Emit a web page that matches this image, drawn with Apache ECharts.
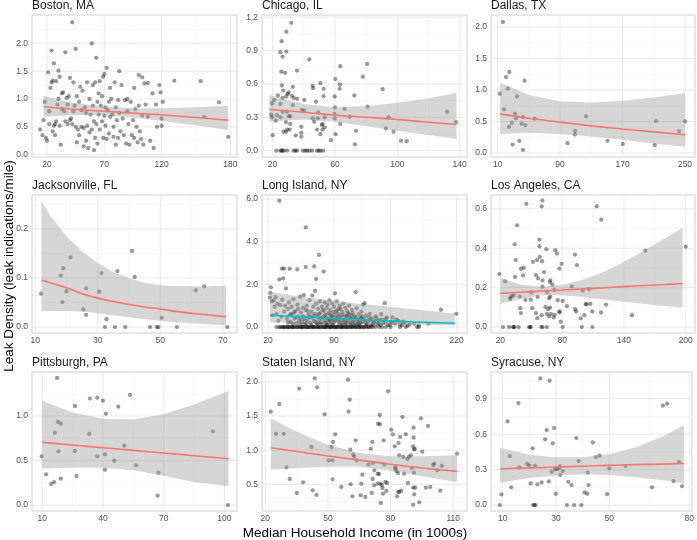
<!DOCTYPE html>
<html><head><meta charset="utf-8">
<script src="https://cdn.jsdelivr.net/npm/echarts@6/dist/echarts.min.js"></script>
<style>html,body{margin:0;padding:0;background:#fff}#c{width:697px;height:540px}</style>
</head><body><div id="c"></div>
<script>
// ---------------- DATA ----------------
const panelNames = ['Boston, MA','Chicago, IL','Dallas, TX','Jacksonville, FL','Long Island, NY','Los Angeles, CA','Pittsburgh, PA','Staten Island, NY','Syracuse, NY'];

const bostonPts = [[14,0.45],[16,0.35],[17,0.62],[18,0.95],[19,0.3],[20,0.25],[21,1.48],[22,0.55],[22,0.78],[23,1.2],[24,1.87],[24,1.3],[25,0.42],[25,1.33],[26,0.52],[26,1.64],[27,0.35],[27,0.55],[28,1.32],[28,0.6],[29,0.9],[30,1.0],[30,1.51],[31,1.4],[31,0.52],[32,0.18],[33,1.1],[33,0.82],[34,1.12],[35,0.78],[36,1.84],[36,0.6],[37,1.02],[38,0.55],[38,0.9],[39,1.05],[40,1.38],[40,0.62],[41,0.65],[42,2.38],[42,0.55],[43,1.3],[43,0.78],[44,0.88],[45,1.9],[45,0.5],[46,0.22],[46,1.05],[47,0.45],[48,0.95],[48,0.35],[49,1.22],[50,0.5],[50,0.8],[51,1.15],[52,0.15],[52,0.48],[53,0.85],[54,0.75],[54,0.25],[55,1.3],[55,0.52],[56,0.12],[57,1.0],[57,0.4],[58,0.72],[59,2.0],[59,0.45],[60,1.25],[60,0.88],[61,0.08],[61,0.6],[62,1.3],[62,0.3],[63,1.74],[63,0.55],[64,0.95],[64,0.2],[65,1.1],[65,0.72],[66,1.32],[66,0.45],[67,0.88],[68,0.6],[68,1.05],[69,1.4],[69,0.3],[70,1.45],[70,0.7],[71,0.52],[71,0.85],[72,1.56],[72,0.28],[73,0.8],[74,0.95],[74,0.38],[75,1.2],[75,0.68],[76,1.0],[77,0.72],[78,0.32],[78,0.5],[79,1.3],[80,0.85],[80,0.18],[81,0.62],[82,0.98],[82,0.3],[83,1.5],[83,0.75],[84,0.42],[85,1.25],[86,0.65],[87,0.35],[88,0.98],[89,0.2],[90,0.78],[90,1.0],[91,0.55],[92,0.18],[93,0.95],[94,0.35],[95,0.62],[96,1.2],[96,0.3],[97,0.82],[98,0.5],[99,0.22],[100,1.43],[100,0.88],[101,0.42],[102,0.28],[103,1.39],[103,0.7],[104,0.18],[105,1.28],[106,0.9],[108,0.68],[108,1.29],[110,0.25],[112,1.1],[113,0.12],[115,0.9],[116,0.5],[118,1.25],[119,1.12],[120,0.65],[120,0.52],[121,0.95],[131,1.33],[154,1.32],[157,0.68],[170,0.94],[178,0.32]];
const bostonFitX = [17,40,70,100,130,160,178];
const bostonFit  = [0.86,0.82,0.78,0.74,0.70,0.65,0.62];
const bostonLo   = [0.68,0.71,0.71,0.66,0.58,0.50,0.44];
const bostonHi   = [1.06,0.94,0.86,0.83,0.84,0.86,0.88];
const bostonXTicks = [20,70,120,180];
const bostonYTicks = [0,0.5,1.0,1.5,2.0];

const chicagoPts = [[22.4,0],[25,0],[25.7,0],[26.3,0],[27.2,0],[29.3,0],[33.5,0],[34.6,0],[35.7,0],[39.5,0],[41,0],[42,0],[43.5,0],[45.3,0],[48.5,0],[49.6,0],[50.7,0],[52.4,0],[32,1.15],[28.8,1.07],[25.8,0.985],[25,0.886],[28.8,0.89],[26.4,0.846],[43.5,0.82],[35.6,0.72],[25.6,0.71],[28,0.70],[63.4,0.76],[80.7,0.78],[77.9,0.665],[60.2,0.644],[63.2,0.595],[63,0.556],[50.6,0.607],[45.7,0.583],[46,0.562],[52.7,0.556],[33,0.574],[26,0.586],[26.8,0.54],[30.3,0.523],[29.6,0.51],[23.4,0.496],[32.4,0.493],[33.5,0.474],[28.8,0.487],[26.4,0.475],[21,0.456],[19.6,0.426],[40.3,0.456],[35.8,0.466],[59.8,0.487],[52.7,0.49],[72.4,0.496],[90.6,0.553],[81,0.396],[66.2,0.375],[60,0.39],[47.8,0.44],[33,0.41],[25,0.42],[29.2,0.35],[26.4,0.35],[22.8,0.32],[19.1,0.323],[19.6,0.30],[22,0.27],[25,0.30],[30.5,0.31],[31.3,0.31],[38.8,0.366],[40.3,0.36],[49.3,0.345],[45.7,0.29],[48.9,0.29],[53.4,0.30],[59.8,0.33],[59.8,0.29],[69.4,0.305],[94.4,0.30],[131.9,0.35],[137.6,0.257],[28.6,0.257],[31.3,0.24],[27,0.17],[28.6,0.17],[29.4,0.19],[31,0.19],[34.8,0.136],[38.4,0.215],[38.4,0.16],[38.4,0.124],[20,0.139],[48.5,0.19],[50.6,0.148],[52,0.19],[53.4,0.21],[52,0.24],[60.4,0.148],[57.4,0.094],[63.4,0.24],[73.5,0.178],[72.8,0.057],[92.7,0.2],[97.6,0.17],[102.4,0.09],[106,0.085],[51.6,0.23],[46.7,0.26]];
const chicagoFitX = [18,40,60,80,100,120,138];
const chicagoFit  = [0.37,0.345,0.32,0.30,0.28,0.255,0.235];
const chicagoLo   = [0.26,0.28,0.26,0.22,0.18,0.14,0.105];
const chicagoHi   = [0.50,0.42,0.39,0.40,0.43,0.47,0.52];
const chicagoXTicks = [20,60,100,140];
const chicagoYTicks = [0,0.3,0.6,0.9,1.2];

const dallasPts = [[16.8,2.08],[24.9,1.285],[20.7,1.205],[23.2,1.024],[44.5,1.147],[13,0.94],[34.7,0.896],[18.1,0.693],[32.2,0.624],[33.4,0.549],[42.4,0.571],[57.3,0.544],[28.3,0.48],[40.7,0.464],[45.4,0.443],[24.5,0.416],[123.4,0.581],[212.9,0.507],[250,0.501],[242.3,0.347],[109.3,0.352],[108.9,0.293],[37.7,0.192],[29.2,0.133],[42.4,0.048],[99.5,0.155],[150.7,0.192],[170.3,0.144],[211.2,0.123]];
const dallasFitX = [13,50,90,130,170,210,250];
const dallasFit  = [0.62,0.55,0.49,0.43,0.38,0.335,0.29];
const dallasLo   = [0.30,0.32,0.30,0.26,0.21,0.15,0.10];
const dallasHi   = [1.12,0.92,0.82,0.80,0.83,0.88,0.95];
const dallasXTicks = [10,90,170,250];
const dallasYTicks = [0,0.5,1.0,1.5,2.0];

const jacksonvillePts = [[11.9,0.068],[18.2,0.105],[19,0.12],[21.3,0.142],[18.7,0.051],[20,0.073],[25.4,0.036],[26.3,0.079],[26.3,0.025],[30.5,0.072],[31.2,0.11],[32.3,0],[32.8,0.016],[35.5,0],[36.3,0.114],[38.8,0],[41,0.155],[41.8,0.102],[46.7,0],[48.9,0],[49.4,0],[50.5,0.019],[55.3,0],[61.3,0.075],[64,0.083],[71.4,0]];
const jacksonvilleFitX = [12,15,20,25,30,35,40,45,50,55,60,65,71];
const jacksonvilleFit  = [0.096,0.090,0.080,0.068,0.059,0.052,0.046,0.041,0.037,0.032,0.028,0.025,0.021];
const jacksonvilleLo   = [0.032,0.033,0.033,0.032,0.028,0.024,0.020,0.016,0.013,0.010,0.008,0.006,0.004];
const jacksonvilleHi   = [0.257,0.225,0.185,0.155,0.130,0.112,0.100,0.090,0.085,0.083,0.083,0.083,0.084];
const jacksonvilleXTicks = [10,30,50,70];
const jacksonvilleYTicks = [0,0.1,0.2];

const longIslandPts = [[22,1.38],[22.5,1.6],[23,1.86],[24,1.2],[25,0.55],[26,1.25],[27,0.95],[28,1.4],[29,0.62],[30,1.1],[31,0.3],[32,2.23],[32,5.92],[33,1.02],[34,0.48],[34.8,2.74],[35,1.28],[36,2.28],[37,2.74],[37,0.72],[38,1.0],[39,1.81],[40,0.38],[41,0.85],[42,1.15],[43,2.73],[43,0.55],[44,0.25],[45,0.95],[46,0.62],[47,1.3],[48,0.4],[49,0.75],[50,0.18],[51,2.7],[51,1.05],[52,0.5],[53,0.3],[54,1.42],[55,0.68],[56,0.22],[57,0.9],[58,1.5],[58,0.45],[59,0.12],[60,4.67],[60,2.81],[60,0.8],[61,1.0],[62,0.35],[63,0.58],[64,1.25],[65,0.2],[66,0.72],[67,1.48],[67,0.42],[68,0.95],[69,2.84],[69,0.28],[70,1.69],[70,0.62],[71,2.25],[71,1.1],[72,0.15],[72,0.5],[73,0.85],[74,3.38],[74,0.35],[75,1.2],[75,0.65],[76,0.22],[77,0.95],[78,0.45],[79,2.6],[79,0.75],[80,1.15],[80,0.3],[81,0.58],[82,0.12],[82,0.88],[83,1.05],[83,0.42],[84,0.65],[85,0.25],[85,1.25],[86,0.8],[87,0.5],[87,0.15],[88,1.1],[88,0.35],[89,0.7],[90,0.95],[90,0.22],[91,1.58],[91,0.55],[92,0.4],[93,1.2],[93,0.78],[94,0.3],[95,0.1],[95,0.62],[96,1.0],[97,0.45],[97,0.85],[98,0.2],[99,0.7],[100,1.1],[100,0.35],[101,0.55],[102,0.15],[102,0.9],[103,0.48],[104,0.75],[105,0.28],[106,1.0],[106,0.6],[107,0.12],[108,0.42],[109,0.8],[110,0.25],[110,0.65],[112,0.5],[113,1.63],[113,0.18],[114,0.88],[115,0.35],[116,0.6],[117,0.1],[118,0.45],[119,0.72],[120,0.22],[121,1.05],[122,0.38],[122.5,1.12],[124,0.55],[125,0.15],[126,0.3],[128,0.62],[129,0.08],[130,0.4],[132,0.2],[134,0.5],[136,0.12],[138,0.32],[140,0.6],[142,0.18],[143.7,1.12],[145,0.38],[147,0.1],[150,0.25],[152,0.45],[155,0.15],[158,0.3],[162,0.08],[165,0.2],[170,0.12],[180,0.08],[190,0.15],[203.4,0.81],[219.6,0.62],[41,0.2],[44,0.6],[46,0.15],[48,0.7],[50,0.45],[52,0.85],[54,0.12],[55,0.38],[57,0.5],[59,0.3],[61,0.18],[62,0.75],[64,0.48],[66,0.1],[68,0.55],[70,0.25],[73,0.18],[74,0.6],[76,0.42],[77,0.15],[78,0.8],[80,0.52],[81,0.2],[83,0.1],[84,0.35],[86,0.3],[86,0.6],[88,0.5],[89,0.1],[91,0.32],[92,0.7],[94,0.48],[95,0.85],[96,0.25],[98,0.55],[99,0.1],[101,0.3],[103,0.2],[104,0.52],[105,0.65],[107,0.4],[108,0.2],[109,0.55],[111,0.1],[111,0.35],[113,0.45],[115,0.15],[116,0.28],[118,0.2],[119,0.4],[120,0.5],[123,0.25],[124,0.1],[127,0.45],[129,0.3],[131,0.1],[133,0.25],[135,0.4],[137,0.2],[139,0.1],[141,0.35],[144,0.22],[146,0.45],[149,0.1],[152,0.2],[156,0.35],[160,0.12],[163,0.25],[168,0.05],[175,0.15]];
const longIslandZeroX = [29,32,33,35,36,37,38,40,41,42,43,45,46,47,48,50,51,52,54,55,56,57,58,60,61,62,63,64,66,67,68,69,70,72,73,74,75,76,78,79,80,81,82,84,85,86,87,88,90,91,92,93,94,96,97,98,99,100,102,103,104,105,107,108,109,110,112,113,114,116,117,118,120,121,122,124,126,127,129,131,134,138,141,145,150,160,166,178,180];
const longIslandFitX = [22,50,80,110,140,170,200,218];
const longIslandFit  = [0.56,0.49,0.42,0.36,0.30,0.25,0.20,0.17];
const longIslandLo   = [0.21,0.20,0.18,0.16,0.14,0.12,0.10,0.09];
const longIslandHi   = [1.64,1.46,1.29,1.12,0.99,0.86,0.72,0.62];
const longIslandXTicks = [20,90,150,220];
const longIslandYTicks = [0,2,4,6];

const losAngelesPts = [[45.2,0.625],[60.8,0.642],[60.1,0.612],[113.5,0.613],[118,0.545],[36.2,0.516],[57.9,0.444],[33.9,0.42],[57.9,0.41],[64.7,0.395],[73.4,0.39],[75,0.373],[92.5,0.368],[160.8,0.388],[200,0.408],[58.2,0.356],[34.9,0.34],[51.7,0.331],[55.6,0.34],[60.5,0.334],[79.5,0.321],[94.4,0.314],[77.3,0.297],[40,0.296],[42.7,0.301],[19,0.269],[62.4,0.279],[54.6,0.264],[42,0.262],[34.2,0.254],[56.6,0.247],[61,0.237],[68.5,0.237],[68.2,0.227],[24.5,0.232],[70.5,0.215],[60.8,0.205],[89.3,0.207],[50.1,0.176],[72.4,0.188],[65.3,0.178],[100,0.185],[106,0.192],[31.3,0.158],[33.2,0.161],[29.7,0.15],[38.8,0.155],[44.3,0.138],[49.4,0.139],[56.2,0.153],[68.5,0.155],[67.2,0.146],[75.7,0.136],[29.7,0.143],[80.5,0.133],[102.8,0.116],[103.8,0.116],[107.4,0.118],[122.6,0.114],[84.7,0.106],[63.7,0.103],[68.2,0.099],[66.3,0.091],[39.4,0.096],[51,0.096],[92.5,0.091],[93.5,0.079],[109.3,0.079],[77.6,0.079],[117.7,0.074],[40,0.071],[54.6,0.071],[65.3,0.067],[69.2,0.066],[72.8,0.062],[60.1,0.06],[147.8,0.06],[77.3,0.074],[101.6,0.06],[55.9,0.045],[67.2,0.054],[98,0.044],[78.6,0.027],[71.8,0.049],[22.6,0],[28.4,0],[32.3,0],[32.9,0],[33.9,0],[37.8,0],[47.8,0],[49.1,0],[49.4,0],[59.8,0],[60.8,0],[65,0],[80.5,0],[99,0],[109.3,0]];
const losAngelesFitX = [20,40,60,80,100,120,140,160,180,197];
const losAngelesFit  = [0.171,0.177,0.183,0.188,0.194,0.199,0.205,0.211,0.216,0.221];
const losAngelesLo   = [0.118,0.142,0.162,0.162,0.152,0.140,0.128,0.117,0.107,0.100];
const losAngelesHi   = [0.250,0.215,0.205,0.215,0.240,0.280,0.330,0.390,0.450,0.505];
const losAngelesXTicks = [20,80,140,200];
const losAngelesYTicks = [0,0.2,0.4,0.6];

const pittsburghPts = [[17.4,1.427],[26.2,1.112],[33.6,1.195],[37.2,1.206],[40,1.172],[41.5,1.026],[47.6,1.105],[53.4,1.236],[17.8,0.933],[19.2,0.914],[16.3,0.813],[33.3,0.798],[94.3,0.828],[50.6,0.667],[26.2,0.607],[18.1,0.603],[9.8,0.547],[37.2,0.547],[41,0.569],[45.6,0.498],[56.4,0.446],[41,0.397],[67.4,0.363],[12,0.345],[27,0.326],[19.2,0.296],[15.9,0.258],[14.5,0.236],[67,0.105],[101.7,0]];
const pittsburghFitX = [10,25,40,55,70,85,102];
const pittsburghFit  = [0.704,0.674,0.644,0.614,0.584,0.554,0.52];
const pittsburghLo   = [0.41,0.42,0.42,0.39,0.33,0.26,0.21];
const pittsburghHi   = [1.17,1.04,0.97,0.96,1.02,1.13,1.28];
const pittsburghXTicks = [10,40,70,100];
const pittsburghYTicks = [0,0.5,1.0];

const statenIslandPts = [[22.6,1.565],[26.7,1.677],[25.1,1.238],[28.8,1.238],[30.1,0.749],[31.7,0.578],[36.2,1.902],[35.1,0.373],[38.1,0.529],[42.1,1.047],[42.7,0.412],[43.7,2.053],[44.8,1.922],[44.5,0.344],[48.4,1.526],[50.4,0.852],[52.2,0.852],[51.7,1.047],[52.4,1.12],[53.5,1.233],[52.2,0.573],[56.4,0.461],[59.6,2.034],[60.4,1.741],[59.9,1.565],[60.7,1.008],[60.9,0.5],[61.7,0.324],[62.6,0.905],[62.1,0.935],[63.3,1.145],[63.8,0.852],[65.7,0.339],[66.5,0.642],[66,0.51],[67.9,0.314],[69.4,0.793],[70.5,1.023],[71,0.373],[71.3,1.12],[71.4,0.578],[71.6,0.813],[72.2,0.705],[72.1,0.485],[73.8,0.656],[73.8,0.51],[74,1.389],[74.9,1.379],[74.8,1.516],[74.5,0.651],[75.1,0.51],[75.3,0.226],[75.8,0.49],[76.4,0.363],[76.1,0.446],[76.7,1.145],[77,0.793],[77.5,0.534],[78,0.402],[78.3,0.519],[78.8,1.863],[80.3,1.301],[81.1,1.233],[82,1.057],[82.3,0.754],[82.3,0.725],[82.8,0.696],[83.1,0.324],[83.6,0.388],[84.2,0.388],[83.5,0.666],[83.8,1.106],[84.1,0.925],[84.6,1.194],[85.1,0.407],[85.7,1.487],[86,0.9],[86.5,0.656],[87.3,1.233],[88,0.871],[88.3,0.519],[88.8,0.9],[89.7,0.925],[90.2,0.739],[90.8,1.057],[91,1.33],[91,1.184],[91.2,1.013],[91.2,0.671],[90.8,0.451],[91.8,0.451],[91.3,0.354],[90.8,0.202],[91.6,1.018],[93.7,0.236],[94.5,1.467],[95.2,0.979],[96.9,0.451],[97.9,1.355],[99,0.461],[100.4,0.783],[100.9,0.803],[102.4,0.705],[103.8,0.407],[104.5,0.769],[111.8,0.949]];
const statenIslandFitX = [22.6,35,50,65,80,95,111.8];
const statenIslandFit  = [1.037,0.98,0.915,0.855,0.795,0.74,0.69];
const statenIslandLo   = [0.715,0.74,0.76,0.76,0.70,0.62,0.535];
const statenIslandHi   = [1.47,1.27,1.08,0.96,0.91,0.91,0.925];
const statenIslandXTicks = [20,50,80,110];
const statenIslandYTicks = [0.5,1.0,1.5,2.0];

const syracusePts = [[8.9,0],[9.5,0.09],[11.8,0.708],[12.7,0.415],[13.2,0.15],[15.9,0.863],[16.3,0.319],[19.2,0.35],[20,0.333],[20.5,0.183],[21.2,0.48],[21.4,0],[21.9,0],[22.3,0],[22.1,0.333],[23,0.175],[24.1,1.072],[24.6,0.192],[25.9,0.556],[26.5,0.635],[27.3,0.2],[27.6,1.052],[28.4,0.282],[28.8,0.522],[29.3,0.652],[29.6,0.305],[29.9,0.096],[30.3,0.305],[31,0.31],[31.5,0.327],[31.6,0.254],[32.5,0.288],[34.1,0],[34.6,0.197],[35.8,0.169],[36.8,0],[37.6,0.567],[38.5,0.372],[39.5,0],[40.7,0.107],[41.7,0.096],[41.9,0.274],[42.2,0.169],[43.8,0.53],[44.9,0.406],[46.4,0.418],[49.2,0.093],[50,0.31],[56.1,0.33],[66,0.15],[70.1,0.841],[71.7,0.858],[74.1,0.203],[76.2,0.364],[77.3,0.161]];
const syracuseFitX = [9,20,30,40,50,60,70,78];
const syracuseFit  = [0.308,0.315,0.322,0.329,0.336,0.342,0.347,0.352];
const syracuseLo   = [0.19,0.23,0.25,0.26,0.255,0.235,0.21,0.185];
const syracuseHi   = [0.485,0.425,0.405,0.405,0.43,0.49,0.58,0.675];
const syracuseXTicks = [10,30,50,80];
const syracuseYTicks = [0,0.3,0.6,0.9];

const xAxisTitle = 'Median Household Income (in 1000s)';
const yAxisTitle = 'Leak Density (leak indications/mile)';

// ---------------- LAYOUT ----------------
const FONT = '"Liberation Sans", Arial, Helvetica, sans-serif';
const colLeft = [32, 262, 491];
const colWidth = [205, 205, 204];
const rowTop = [15, 195, 372];
const rowHeight = [142, 138, 139];
const ranges = [
  [6.9,185.7,-0.042,2.51],
  [13.2,144.7,-0.057,1.22],
  [1.5,262.8,-0.064,2.19],
  [9,74.5,-0.012,0.269],
  [13.6,231,-0.28,6.19],
  [10.9,209,-0.03,0.67],
  [5,106.2,-0.067,1.494],
  [18.4,116.6,0.109,2.146],
  [5.6,81,-0.05,1.126]
];

const panels = [
  {pts: bostonPts, fx: bostonFitX, fy: bostonFit, lo: bostonLo, hi: bostonHi, xt: bostonXTicks, yt: bostonYTicks},
  {pts: chicagoPts, fx: chicagoFitX, fy: chicagoFit, lo: chicagoLo, hi: chicagoHi, xt: chicagoXTicks, yt: chicagoYTicks},
  {pts: dallasPts, fx: dallasFitX, fy: dallasFit, lo: dallasLo, hi: dallasHi, xt: dallasXTicks, yt: dallasYTicks},
  {pts: jacksonvillePts, fx: jacksonvilleFitX, fy: jacksonvilleFit, lo: jacksonvilleLo, hi: jacksonvilleHi, xt: jacksonvilleXTicks, yt: jacksonvilleYTicks},
  {pts: longIslandPts.concat(longIslandZeroX.map(x => [x, 0])), fx: longIslandFitX, fy: longIslandFit, lo: longIslandLo, hi: longIslandHi, xt: longIslandXTicks, yt: longIslandYTicks, lineColor: '#00BFC4'},
  {pts: losAngelesPts, fx: losAngelesFitX, fy: losAngelesFit, lo: losAngelesLo, hi: losAngelesHi, xt: losAngelesXTicks, yt: losAngelesYTicks},
  {pts: pittsburghPts, fx: pittsburghFitX, fy: pittsburghFit, lo: pittsburghLo, hi: pittsburghHi, xt: pittsburghXTicks, yt: pittsburghYTicks},
  {pts: statenIslandPts, fx: statenIslandFitX, fy: statenIslandFit, lo: statenIslandLo, hi: statenIslandHi, xt: statenIslandXTicks, yt: statenIslandYTicks},
  {pts: syracusePts, fx: syracuseFitX, fy: syracuseFit, lo: syracuseLo, hi: syracuseHi, xt: syracuseXTicks, yt: syracuseYTicks}
];

function minors(ticks, lo, hi) {
  const n = ticks.length;
  const ext = [ticks[0] - (ticks[1] - ticks[0])].concat(ticks, [ticks[n-1] + (ticks[n-1] - ticks[n-2])]);
  const out = [];
  for (let i = 0; i < ext.length - 1; i++) {
    const m = (ext[i] + ext[i+1]) / 2;
    if (m > lo && m < hi) out.push(m);
  }
  return out;
}

const grids = [], xAxes = [], yAxes = [], series = [], titles = [];
panels.forEach((p, i) => {
  const c = i % 3, r = Math.floor(i / 3);
  const [x0, x1, y0, y1] = ranges[i];
  grids.push({left: colLeft[c], top: rowTop[r], width: colWidth[c], height: rowHeight[r],
    show: true, borderColor: '#cfcfcf', borderWidth: 1, backgroundColor: '#ffffff'});
  xAxes.push({gridIndex: i, type: 'value', min: x0, max: x1,
    axisLine: {show: false}, axisTick: {show: false}, splitLine: {show: false},
    axisLabel: {customValues: p.xt, fontSize: 8.5, color: '#4d4d4d', margin: 3, fontFamily: FONT,
      formatter: v => String(Math.round(v))}});
  yAxes.push({gridIndex: i, type: 'value', min: y0, max: y1,
    axisLine: {show: false}, axisTick: {show: false}, splitLine: {show: false},
    axisLabel: {customValues: p.yt, fontSize: 8.5, color: '#4d4d4d', margin: 4, fontFamily: FONT,
      formatter: v => v.toFixed(1)}});
  titles.push({text: panelNames[i], left: colLeft[c], top: rowTop[r] - 15, padding: 0,
    textStyle: {fontSize: 12, fontWeight: 'normal', color: '#1a1a1a', fontFamily: FONT}});

  // grid lines
  const gl = [];
  minors(p.xt, x0, x1).forEach(v => gl.push([0, v, 0]));
  minors(p.yt, y0, y1).forEach(v => gl.push([1, v, 0]));
  p.xt.forEach(v => gl.push([0, v, 1]));
  p.yt.forEach(v => gl.push([1, v, 1]));
  series.push({type: 'custom', xAxisIndex: i, yAxisIndex: i, silent: true, z: 1, data: gl,
    encode: {x: 1, y: 1},
    renderItem: (params, api) => {
      const cs = params.coordSys;
      const kind = api.value(0), v = api.value(1), major = api.value(2);
      let shape;
      if (kind === 0) {
        const px = api.coord([v, y0])[0];
        shape = {x1: px, y1: cs.y, x2: px, y2: cs.y + cs.height};
      } else {
        const py = api.coord([x0, v])[1];
        shape = {x1: cs.x, y1: py, x2: cs.x + cs.width, y2: py};
      }
      return {type: 'line', shape, style: {stroke: major ? '#e6e6e6' : '#f2f2f2', lineWidth: major ? 0.9 : 0.6}};
    }});

  // points
  series.push({type: 'scatter', xAxisIndex: i, yAxisIndex: i, data: p.pts, symbolSize: 4.3, silent: true, z: 2,
    itemStyle: {color: 'rgba(0,0,0,0.5)', borderWidth: 0}});

  // confidence band
  const band = p.fx.map((x, k) => [x, p.lo[k], p.hi[k]]);
  series.push({type: 'custom', xAxisIndex: i, yAxisIndex: i, silent: true, z: 3, data: band,
    encode: {x: 0, y: [1, 2]},
    renderItem: (params, api) => {
      if (params.dataIndex !== 0) return;
      const pts = [];
      for (let k = 0; k < p.fx.length; k++) pts.push(api.coord([p.fx[k], p.hi[k]]));
      for (let k = p.fx.length - 1; k >= 0; k--) pts.push(api.coord([p.fx[k], p.lo[k]]));
      return {type: 'polygon', shape: {points: pts}, style: {fill: 'rgba(153,153,153,0.4)'}};
    }});

  // fitted line
  series.push({type: 'line', xAxisIndex: i, yAxisIndex: i, silent: true, z: 4,
    data: p.fx.map((x, k) => [x, p.fy[k]]), smooth: 0.3, showSymbol: false, symbol: 'none',
    lineStyle: {color: p.lineColor || '#F8766D', width: 1.6}});
});

const chart = echarts.init(document.getElementById('c'), null, {renderer: 'canvas'});
chart.setOption({
  animation: false,
  backgroundColor: '#ffffff',
  title: titles,
  grid: grids,
  xAxis: xAxes,
  yAxis: yAxes,
  series: series,
  graphic: [
    {type: 'text', x: 355, y: 533, style: {text: xAxisTitle, fontSize: 13.5, fontFamily: FONT, fill: '#000', textAlign: 'center', textVerticalAlign: 'middle'}},
    {type: 'text', x: 9, y: 266, rotation: Math.PI / 2, style: {text: yAxisTitle, fontSize: 13.5, fontFamily: FONT, fill: '#000', textAlign: 'center', textVerticalAlign: 'middle'}}
  ]
});
</script></body></html>
